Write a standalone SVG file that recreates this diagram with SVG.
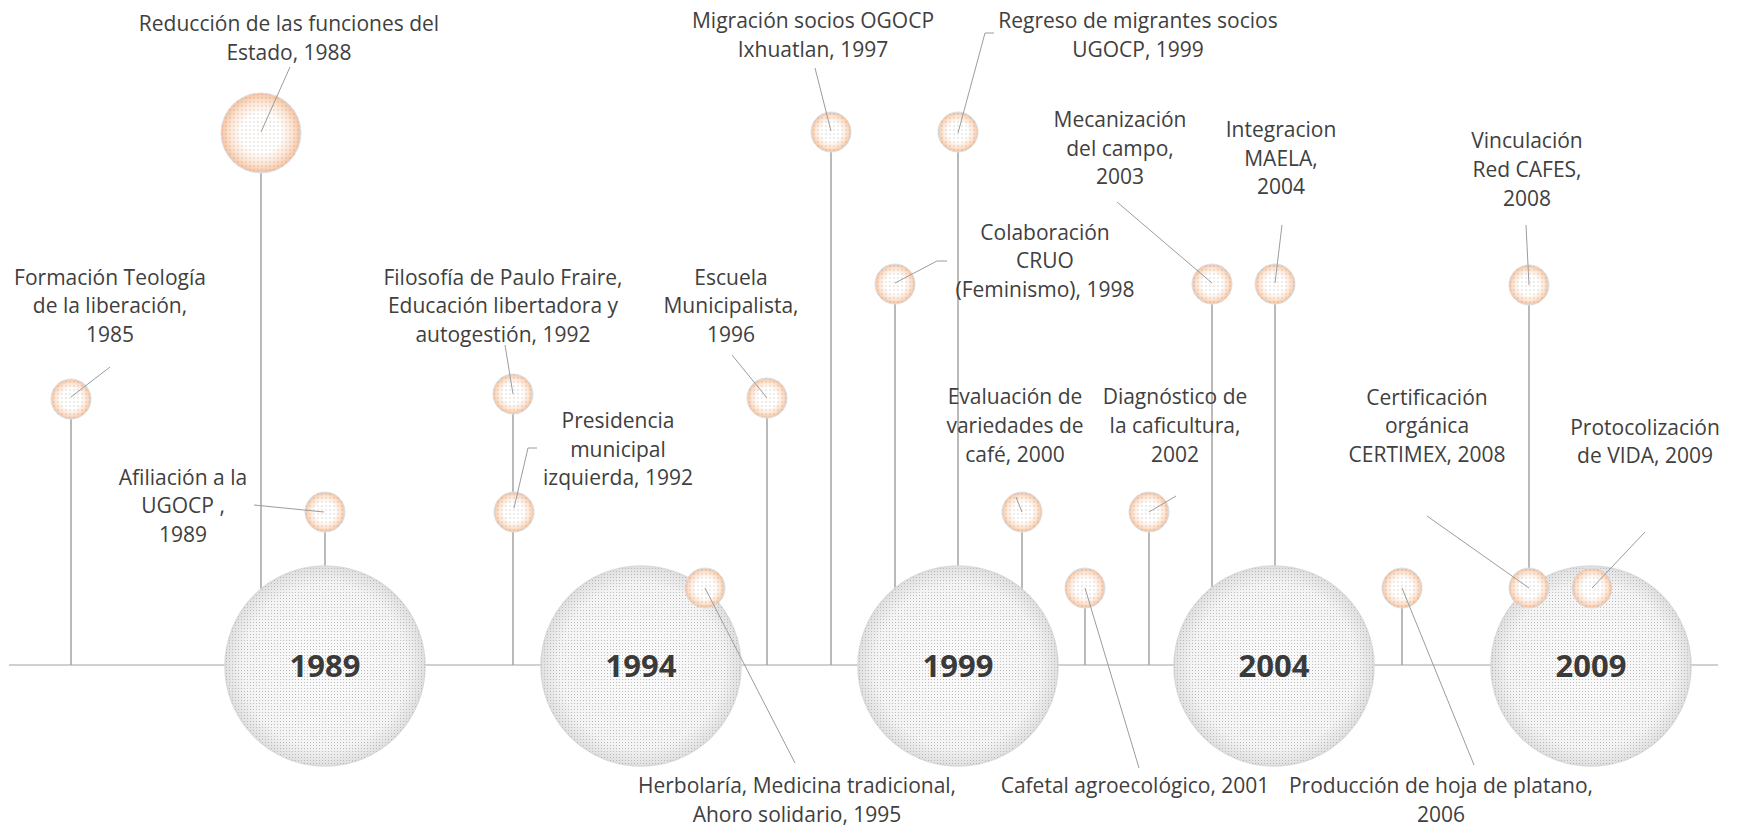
<svg xmlns="http://www.w3.org/2000/svg" width="1739" height="826" viewBox="0 0 1739 826">
  <style>
    .axis { stroke: #d0d0d0; stroke-width: 2; fill: none; }
    .stem { stroke: #a3a3a3; stroke-width: 1.5; fill: none; }
    .lead { stroke: #9c9c9c; stroke-width: 1; fill: none; }
    .lbl { font-family: "Open Sans", "Liberation Sans", sans-serif; font-size: 21px; fill: #404040; text-anchor: middle; }
    .yr { font-family: "Open Sans", "Liberation Sans", sans-serif; font-size: 31px; font-weight: 700; fill: #3a3a3a; text-anchor: middle; }
    .ev { fill: url(#peach); stroke: #d6e3f1; stroke-width: 1; }
    .evdots { fill: url(#dotsP); }
    .big { fill: url(#grey); stroke: #dadada; stroke-width: 1.5; }
    .bigdots { fill: url(#dotsG); }
  </style>
  <defs>
    <radialGradient id="peach" cx="0.5" cy="0.5" r="0.5">
      <stop offset="0" stop-color="#ffffff"/>
      <stop offset="0.5" stop-color="#ffffff"/>
      <stop offset="0.78" stop-color="#fde5d4"/>
      <stop offset="1" stop-color="#f6c29d"/>
    </radialGradient>
    <radialGradient id="grey" cx="0.5" cy="0.5" r="0.5">
      <stop offset="0" stop-color="#fbfbfb"/>
      <stop offset="0.82" stop-color="#f4f4f4"/>
      <stop offset="1" stop-color="#e0e0e0"/>
    </radialGradient>
    <pattern id="dotsP" width="4" height="4" patternUnits="userSpaceOnUse">
      <rect x="1.5" y="1.5" width="1" height="1" fill="#9a7a6a" fill-opacity="0.6"/>
    </pattern>
    <pattern id="dotsG" width="3" height="3" patternUnits="userSpaceOnUse">
      <rect x="1" y="1" width="1" height="1" fill="#a9a9a9" fill-opacity="0.75"/>
    </pattern>
  </defs>

  <rect width="1739" height="826" fill="#ffffff"/>

  <!-- timeline axis and vertical stems -->
  <g id="connectors">
    <line class="axis" x1="9" y1="665" x2="1718" y2="665"/>
    <line class="stem" x1="71" y1="419" x2="71" y2="665"/>
    <line class="stem" x1="261" y1="173" x2="261" y2="665"/>
    <line class="stem" x1="325" y1="532" x2="325" y2="665"/>
    <line class="stem" x1="513" y1="414" x2="513" y2="665"/>
    <line class="stem" x1="767" y1="418" x2="767" y2="665"/>
    <line class="stem" x1="831" y1="152" x2="831" y2="665"/>
    <line class="stem" x1="895" y1="304" x2="895" y2="665"/>
    <line class="stem" x1="958" y1="152" x2="958" y2="665"/>
    <line class="stem" x1="1022" y1="532" x2="1022" y2="665"/>
    <line class="stem" x1="1085" y1="608" x2="1085" y2="665"/>
    <line class="stem" x1="1149" y1="532" x2="1149" y2="665"/>
    <line class="stem" x1="1212" y1="304" x2="1212" y2="665"/>
    <line class="stem" x1="1275" y1="304" x2="1275" y2="665"/>
    <line class="stem" x1="1402" y1="608" x2="1402" y2="665"/>
    <line class="stem" x1="1529" y1="305" x2="1529" y2="665"/>
  </g>

  <!-- year markers -->
  <g id="y1989">
    <circle class="big" cx="325" cy="666" r="100"/><circle class="bigdots" cx="325" cy="666" r="100"/>
    <text class="yr" x="325" y="677">1989</text>
  </g>
  <g id="y1994">
    <circle class="big" cx="641" cy="666" r="100"/><circle class="bigdots" cx="641" cy="666" r="100"/>
    <text class="yr" x="641" y="677">1994</text>
  </g>
  <g id="y1999">
    <circle class="big" cx="958" cy="666" r="100"/><circle class="bigdots" cx="958" cy="666" r="100"/>
    <text class="yr" x="958" y="677">1999</text>
  </g>
  <g id="y2004">
    <circle class="big" cx="1274" cy="666" r="100"/><circle class="bigdots" cx="1274" cy="666" r="100"/>
    <text class="yr" x="1274" y="677">2004</text>
  </g>
  <g id="y2009">
    <circle class="big" cx="1591" cy="666" r="100"/><circle class="bigdots" cx="1591" cy="666" r="100"/>
    <text class="yr" x="1591" y="677">2009</text>
  </g>

  <!-- events -->
  <g id="formacion">
    <circle class="ev" cx="71" cy="399" r="20"/><circle class="evdots" cx="71" cy="399" r="20"/>
    <text class="lbl" x="110"><tspan x="110" y="285">Formación Teología</tspan><tspan x="110" y="313">de la liberación,</tspan><tspan x="110" y="342">1985</tspan></text>
  </g>
  <g id="reduccion">
    <circle class="ev" cx="261" cy="133" r="40"/><circle class="evdots" cx="261" cy="133" r="40"/>
    <text class="lbl" x="289"><tspan x="289" y="31">Reducción de las funciones del</tspan><tspan x="289" y="60">Estado, 1988</tspan></text>
  </g>
  <g id="afiliacion">
    <circle class="ev" cx="325" cy="512" r="20"/><circle class="evdots" cx="325" cy="512" r="20"/>
    <text class="lbl" x="183"><tspan x="183" y="485">Afiliación a la</tspan><tspan x="183" y="513">UGOCP ,</tspan><tspan x="183" y="542">1989</tspan></text>
  </g>
  <g id="filosofia">
    <circle class="ev" cx="513" cy="394" r="20"/><circle class="evdots" cx="513" cy="394" r="20"/>
    <text class="lbl" x="503"><tspan x="503" y="285">Filosofía de Paulo Fraire,</tspan><tspan x="503" y="313">Educación libertadora y</tspan><tspan x="503" y="342">autogestión, 1992</tspan></text>
  </g>
  <g id="presidencia">
    <circle class="ev" cx="514" cy="512" r="20"/><circle class="evdots" cx="514" cy="512" r="20"/>
    <text class="lbl" x="618"><tspan x="618" y="428">Presidencia</tspan><tspan x="618" y="457">municipal</tspan><tspan x="618" y="485">izquierda, 1992</tspan></text>
  </g>
  <g id="escuela">
    <circle class="ev" cx="767" cy="398" r="20"/><circle class="evdots" cx="767" cy="398" r="20"/>
    <text class="lbl" x="731"><tspan x="731" y="285">Escuela</tspan><tspan x="731" y="313">Municipalista,</tspan><tspan x="731" y="342">1996</tspan></text>
  </g>
  <g id="herbolaria">
    <circle class="ev" cx="705" cy="588" r="20"/><circle class="evdots" cx="705" cy="588" r="20"/>
    <text class="lbl" x="797"><tspan x="797" y="793">Herbolaría, Medicina tradicional,</tspan><tspan x="797" y="822">Ahoro solidario, 1995</tspan></text>
  </g>
  <g id="migracion">
    <circle class="ev" cx="831" cy="132" r="20"/><circle class="evdots" cx="831" cy="132" r="20"/>
    <text class="lbl" x="813"><tspan x="813" y="28">Migración socios OGOCP</tspan><tspan x="813" y="57">Ixhuatlan, 1997</tspan></text>
  </g>
  <g id="regreso">
    <circle class="ev" cx="958" cy="132" r="20"/><circle class="evdots" cx="958" cy="132" r="20"/>
    <text class="lbl" x="1138"><tspan x="1138" y="28">Regreso de migrantes socios</tspan><tspan x="1138" y="57">UGOCP, 1999</tspan></text>
  </g>
  <g id="colaboracion">
    <circle class="ev" cx="895" cy="284" r="20"/><circle class="evdots" cx="895" cy="284" r="20"/>
    <text class="lbl" x="1045"><tspan x="1045" y="240">Colaboración</tspan><tspan x="1045" y="268">CRUO</tspan><tspan x="1045" y="297">(Feminismo), 1998</tspan></text>
  </g>
  <g id="evaluacion">
    <circle class="ev" cx="1022" cy="512" r="20"/><circle class="evdots" cx="1022" cy="512" r="20"/>
    <text class="lbl" x="1015"><tspan x="1015" y="404">Evaluación de</tspan><tspan x="1015" y="433">variedades de</tspan><tspan x="1015" y="462">café, 2000</tspan></text>
  </g>
  <g id="cafetal">
    <circle class="ev" cx="1085" cy="588" r="20"/><circle class="evdots" cx="1085" cy="588" r="20"/>
    <text class="lbl" x="1135" y="793">Cafetal agroecológico, 2001</text>
  </g>
  <g id="diagnostico">
    <circle class="ev" cx="1149" cy="512" r="20"/><circle class="evdots" cx="1149" cy="512" r="20"/>
    <text class="lbl" x="1175"><tspan x="1175" y="404">Diagnóstico de</tspan><tspan x="1175" y="433">la caficultura,</tspan><tspan x="1175" y="462">2002</tspan></text>
  </g>
  <g id="mecanizacion">
    <circle class="ev" cx="1212" cy="284" r="20"/><circle class="evdots" cx="1212" cy="284" r="20"/>
    <text class="lbl" x="1120"><tspan x="1120" y="127">Mecanización</tspan><tspan x="1120" y="156">del campo,</tspan><tspan x="1120" y="184">2003</tspan></text>
  </g>
  <g id="integracion">
    <circle class="ev" cx="1275" cy="284" r="20"/><circle class="evdots" cx="1275" cy="284" r="20"/>
    <text class="lbl" x="1281"><tspan x="1281" y="137">Integracion</tspan><tspan x="1281" y="166">MAELA,</tspan><tspan x="1281" y="194">2004</tspan></text>
  </g>
  <g id="produccion">
    <circle class="ev" cx="1402" cy="588" r="20"/><circle class="evdots" cx="1402" cy="588" r="20"/>
    <text class="lbl" x="1441"><tspan x="1441" y="793">Producción de hoja de platano,</tspan><tspan x="1441" y="822">2006</tspan></text>
  </g>
  <g id="vinculacion">
    <circle class="ev" cx="1529" cy="285" r="20"/><circle class="evdots" cx="1529" cy="285" r="20"/>
    <text class="lbl" x="1527"><tspan x="1527" y="148">Vinculación</tspan><tspan x="1527" y="177">Red CAFES,</tspan><tspan x="1527" y="206">2008</tspan></text>
  </g>
  <g id="certificacion">
    <circle class="ev" cx="1529" cy="588" r="20"/><circle class="evdots" cx="1529" cy="588" r="20"/>
    <text class="lbl" x="1427"><tspan x="1427" y="405">Certificación</tspan><tspan x="1427" y="433">orgánica</tspan><tspan x="1427" y="462">CERTIMEX, 2008</tspan></text>
  </g>
  <g id="protocolizacion">
    <circle class="ev" cx="1592" cy="588" r="20"/><circle class="evdots" cx="1592" cy="588" r="20"/>
    <text class="lbl" x="1645"><tspan x="1645" y="435">Protocolización</tspan><tspan x="1645" y="463">de VIDA, 2009</tspan></text>
  </g>

  <!-- label leader lines -->
  <g id="leaders">
    <polyline class="lead" points="71,397 110,367"/>
    <polyline class="lead" points="261,132 290,67"/>
    <polyline class="lead" points="324,512 254,505"/>
    <polyline class="lead" points="513,394 505,345"/>
    <polyline class="lead" points="514,508 528,448 537,448"/>
    <polyline class="lead" points="767,398 732,355"/>
    <polyline class="lead" points="705,588 795,763"/>
    <polyline class="lead" points="831,131 815,68"/>
    <polyline class="lead" points="958,133 985,33 994,33"/>
    <polyline class="lead" points="895,283 937,261 947,261"/>
    <polyline class="lead" points="1022,512 1016,497"/>
    <polyline class="lead" points="1085,588 1139,768"/>
    <polyline class="lead" points="1149,512 1176,496"/>
    <polyline class="lead" points="1212,283 1117,202"/>
    <polyline class="lead" points="1275,283 1282,225"/>
    <polyline class="lead" points="1402,588 1474,765"/>
    <polyline class="lead" points="1529,285 1526,225"/>
    <polyline class="lead" points="1529,588 1427,516"/>
    <polyline class="lead" points="1592,588 1645,532"/>
  </g>
</svg>
